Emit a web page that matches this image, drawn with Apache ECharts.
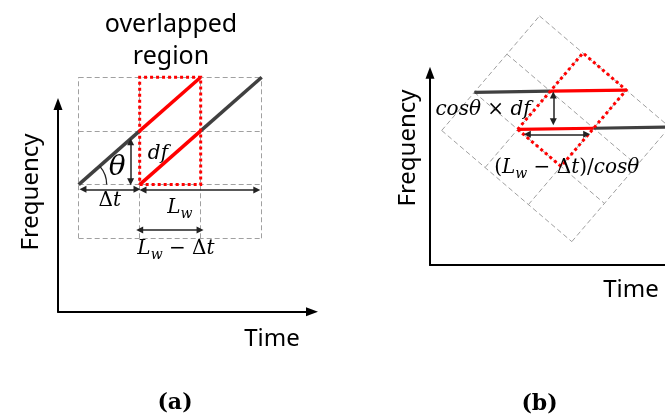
<!DOCTYPE html>
<html>
<head>
<meta charset="utf-8">
<script src="https://cdn.jsdelivr.net/npm/echarts@6/dist/echarts.min.js"></script>
<style>
html, body { margin: 0; padding: 0; background: #fff; }
#c { width: 665px; height: 416px; }
</style>
</head>
<body>
<div id="c"></div>
<script>
// Two chirps on the time-frequency plane: (a) as received, (b) the same plane tilted by theta.
// Diagram units: one dashed cell is 1 along time (columns) and 1 along frequency (rows).
const cellCols = [0, 1, 2, 3];
const cellRows = [0, 1, 2, 3];
const chirpEarly = [[0, 1], [1, 2], [2, 3]];
const chirpLate = [[1, 1], [2, 2], [3, 3]];
const overlapTime = [1, 2];
const overlapFreq = [1, 3];

const SANS = '"Noto Sans", "Open Sans", sans-serif';
const MATH = '"DejaVu Serif", "Liberation Serif", serif';
const INK = '#000000', DARK = '#404040', RED = '#ff0000', DASH = '#a0a0a0';

// panel (a) frame
const ga = { left: 58, top: 104, width: 254, height: 207.7 };
const xa = [-0.339, 3.825], ya = [-1.367, 2.501];
const pxU = ga.width / (xa[1] - xa[0]);
const pxV = ga.height / (ya[1] - ya[0]);

// panel (b) frame, one axis unit per pixel so the tilt keeps its shape
const gb = { left: 430, top: 72.7, width: 235, height: 192.3 };
const xb = [0, 235], yb = [0, 192.3];
const tilt = 40.5 * Math.PI / 180, shrink = 0.935, originB = [11.7, 134.5];
const stepT = [shrink * pxU * Math.cos(tilt), -shrink * pxU * Math.sin(tilt)];
const stepF = [shrink * pxV * Math.sin(tilt), shrink * pxV * Math.cos(tilt)];
const toB = p => [originB[0] + p[0] * stepT[0] + p[1] * stepF[0],
                  originB[1] + p[0] * stepT[1] + p[1] * stepF[1]];
const same = p => p;

function splitChirp(pts) {
  const dark = [], red = [];
  for (let i = 0; i < pts.length - 1; i++) {
    const seg = [pts[i], pts[i + 1]];
    const inside = seg[0][0] >= overlapTime[0] && seg[1][0] <= overlapTime[1];
    (inside ? red : dark).push(seg);
  }
  return { dark, red };
}
const early = splitChirp(chirpEarly), late = splitChirp(chirpLate);
const darkSegs = early.dark.concat(late.dark);
const redSegs = early.red.concat(late.red);

const r0 = cellRows[0], r1 = cellRows[cellRows.length - 1];
const c0 = cellCols[0], c1 = cellCols[cellCols.length - 1];
const gridSegs = cellCols.map(c => [[c, r0], [c, r1]])
  .concat(cellRows.map(r => [[c0, r], [c1, r]]));
const overlapBox = [[overlapTime[0], overlapFreq[0]], [overlapTime[1], overlapFreq[0]],
  [overlapTime[1], overlapFreq[1]], [overlapTime[0], overlapFreq[1]], [overlapTime[0], overlapFreq[0]]];

function axis(gridIndex, min, max, arrow) {
  return {
    type: 'value', gridIndex, min, max,
    axisLine: { show: true, onZero: false, symbol: ['none', arrow ? 'triangle' : 'none'], symbolSize: [9, 12],
      lineStyle: { color: '#000', width: 2 } },
    axisTick: { show: false }, axisLabel: { show: false }, splitLine: { show: false }
  };
}

const rich = {
  i: { fontFamily: MATH, fontStyle: 'italic', fontSize: 20, color: INK, lineHeight: 26 },
  n: { fontFamily: MATH, fontSize: 20, color: INK, lineHeight: 26 },
  s: { fontFamily: MATH, fontStyle: 'italic', fontSize: 14, color: INK, lineHeight: 26,
       verticalAlign: 'top', padding: [12, 0, 0, 0] },
  big: { fontFamily: MATH, fontStyle: 'italic', fontSize: 28, color: INK }
};

function textSeries(k, items) {
  return {
    type: 'scatter', xAxisIndex: k, yAxisIndex: k, clip: false, silent: true,
    symbolSize: 1, itemStyle: { color: 'rgba(255,255,255,0)' }, z: 10,
    label: { show: true, position: 'inside', rich, color: INK, opacity: 1,
      textBorderWidth: 0, textShadowBlur: 0, align: 'center', verticalAlign: 'middle' },
    data: items.map(t => ({ value: t.at, label: { formatter: t.text } }))
  };
}

function panelSeries(k, map, lw, arrows) {
  const ax = { xAxisIndex: k, yAxisIndex: k, coordinateSystem: 'cartesian2d', clip: false, silent: true };
  const segs = list => list.map(s => ({ coords: s.map(map) }));
  return [
    Object.assign({ type: 'lines', data: segs(gridSegs), z: 1,
      lineStyle: { color: DASH, width: 1, type: [5, 3], opacity: 1 } }, ax),
    Object.assign({ type: 'lines', data: segs(darkSegs), z: 2,
      lineStyle: { color: DARK, width: lw, opacity: 1 } }, ax),
    Object.assign({ type: 'lines', data: segs(redSegs), z: 3,
      lineStyle: { color: RED, width: lw, opacity: 1 } }, ax),
    Object.assign({ type: 'lines', polyline: true, data: [{ coords: overlapBox.map(map) }], z: 4,
      lineStyle: { color: RED, width: 3, type: [3, 3], opacity: 1 } }, ax),
    Object.assign({ type: 'lines', data: arrows.map(s => ({ coords: s })), z: 5,
      symbol: ['triangle', 'triangle'], symbolSize: 7,
      lineStyle: { color: '#222', width: 1.5, opacity: 1 } }, ax)
  ];
}

// dimension arrows, in each panel's own axis units
const arrowsA = [
  [[0.852, 1.80], [0.852, 1.054]],
  [[0.07, 0.912], [0.956, 0.912]],
  [[1.054, 0.90], [2.92, 0.90]],
  [[1.0, 0.155], [1.99, 0.155]]
];
const arrowsB = [
  [[123.3, 170], [123.3, 143.3]],
  [[97.3, 130.7], [156.7, 130.7]]
];

const thetaArc = {
  type: 'custom', xAxisIndex: 0, yAxisIndex: 0, clip: false, silent: true, z: 5,
  data: [chirpEarly[0]],
  renderItem: function (params, api) {
    const p0 = api.coord(chirpEarly[0]), p1 = api.coord(chirpEarly[1]);
    const ang = Math.atan2(p1[1] - p0[1], p1[0] - p0[0]);
    return { type: 'arc',
      shape: { cx: p0[0], cy: p0[1], r: 28, startAngle: ang, endAngle: 0, clockwise: true },
      style: { stroke: '#222', fill: null, lineWidth: 1.3 } };
  }
};

function label(text, x, y, size, weight, family, rot) {
  return { type: 'text', x, y, rotation: rot || 0,
    style: { text, fill: INK, align: 'center', verticalAlign: 'middle',
      font: (weight || 'normal') + ' ' + size + 'px ' + family } };
}

const option = {
  animation: false,
  backgroundColor: '#fff',
  grid: [
    Object.assign({ containLabel: false }, ga),
    Object.assign({ containLabel: false }, gb)
  ],
  xAxis: [axis(0, xa[0], xa[1], true), axis(1, xb[0], xb[1], false)],
  yAxis: [axis(0, ya[0], ya[1], true), axis(1, yb[0], yb[1], true)],
  graphic: [
    label('overlapped', 171, 24.6, 25, 'normal', SANS),
    label('region', 171, 56.6, 25, 'normal', SANS),
    label('Frequency', 31, 192, 24, 'normal', SANS, Math.PI / 2),
    label('Frequency', 408, 148, 24, 'normal', SANS, Math.PI / 2),
    label('Time', 272, 339, 24, 'normal', SANS),
    label('Time', 631, 290, 24, 'normal', SANS),
    label('(a)', 175, 403, 22, 'bold', MATH),
    label('(b)', 539.5, 404, 22, 'bold', MATH)
  ],
  series: [].concat(
    panelSeries(0, same, 3.5, arrowsA),
    [thetaArc],
    [textSeries(0, [
      { at: [1.30, 1.57], text: '{i|df}' },
      { at: [0.63, 1.31], text: '{big|θ}' },
      { at: [0.51, 0.695], text: '{n|Δ}{i|t}' },
      { at: [1.66, 0.564], text: '{i|L}{s|w}' },
      { at: [1.595, -0.2], text: '{i|L}{s|w}{n| − Δ}{i|t}' }
    ])],
    panelSeries(1, toB, 3.2, arrowsB),
    [textSeries(1, [
      { at: [53, 155], text: '{i|cosθ × df}' },
      { at: [136.7, 97], text: '{n|(}{i|L}{s|w}{n| − Δ}{i|t}{n|)/}{i|cosθ}' }
    ])]
  )
};

const chart = echarts.init(document.getElementById('c'), null, { renderer: 'canvas' });
chart.setOption(option);
</script>
</body>
</html>
